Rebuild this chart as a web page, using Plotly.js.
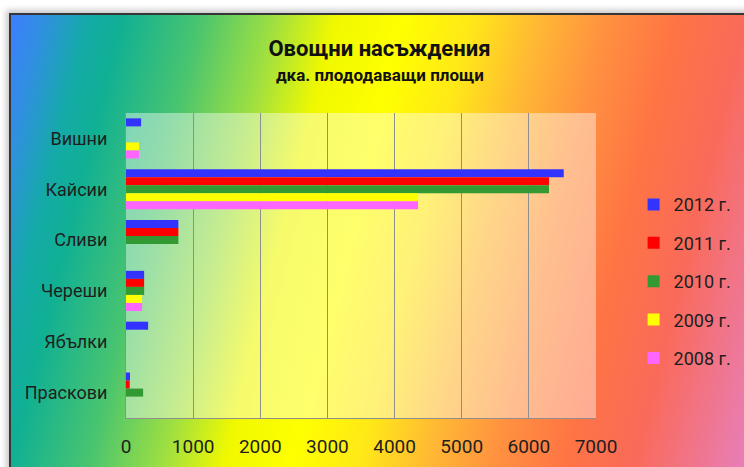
<!DOCTYPE html>
<html>
<head>
<meta charset="utf-8">
<script src="https://cdn.plot.ly/plotly-3.0.1.min.js"></script>
<style>
  html, body { margin:0; padding:0; width:744px; height:467px; overflow:hidden; background:#ffffff; }
  #frame { position:absolute; left:9px; top:13px; width:740px; height:460px;
    border-left:2px solid #363636; border-top:2px solid #363636;
    box-shadow: -3px -3px 6px rgba(0,0,0,0.22);
    background: linear-gradient(104deg, #3d7eff 0%, #3090e0 4%, #14aaa8 9%, #10b094 13%, #48c470 22%, #a0e040 31%, #f0f800 38%, #ffff00 46%, #ffe818 54%, #ffb834 62%, #ff9040 70%, #ff7444 78%, #fa6a5a 86%, #f0758c 93%, #e680c0 100%);
  }
  #chart { position:absolute; left:0; top:0; width:744px; height:467px; }
</style>
</head>
<body>
<div id="frame"></div>
<div id="chart"></div>
<script>
const categories = ["Вишни", "Кайсии", "Сливи", "Череши", "Ябълки", "Праскови"];
const seriesNames = ["2012 г.", "2011 г.", "2010 г.", "2009 г.", "2008 г."];
const v2012 = [225, 6520, 780, 270, 330, 60];
const v2011 = [0, 6300, 780, 270, 0, 55];
const v2010 = [0, 6300, 780, 270, 0, 255];
const v2009 = [195, 4350, 0, 240, 0, 0];
const v2008 = [195, 4350, 0, 240, 0, 0];
const xTicks = [0, 1000, 2000, 3000, 4000, 5000, 6000, 7000];
const titleText = "Овощни насъждения";
const subtitleText = "дка. плододаващи площи";

const seriesValues = [v2012, v2011, v2010, v2009, v2008];
const colors = ["#3333ff", "#ff0000", "#339933", "#ffff00", "#ff66ff"];

const traces = seriesNames.map((name, i) => ({
  type: "bar",
  orientation: "h",
  name: name,
  y: categories,
  x: seriesValues[i],
  marker: { color: colors[i], line: { width: 0 } },
  legendgroup: "g" + i,
  hoverinfo: "x+name"
}));

const font = "Roboto, 'Open Sans', sans-serif";
const layout = {
  width: 744, height: 467,
  margin: { l: 126, r: 148, t: 113, b: 49, autoexpand: false },
  paper_bgcolor: "rgba(0,0,0,0)",
  plot_bgcolor: "rgba(255,255,255,0.42)",
  barmode: "group",
  bargap: 0.21,
  bargroupgap: 0,
  font: { family: font, size: 18, color: "#1e1e1e" },
  title: { text: "<b>" + titleText + "</b>", xref: "container", yref: "container",
           x: 0.51, xanchor: "center", y: 0.897, yanchor: "middle",
           font: { family: font, size: 22, color: "#111" } },
  annotations: [{ text: "<b>" + subtitleText + "</b>", xref: "paper", yref: "paper",
                  x: 0.54, y: 1.125, xanchor: "center", yanchor: "middle", showarrow: false,
                  font: { family: font, size: 17, color: "#111" } }],
  xaxis: {
    range: [0, 7000], tickvals: xTicks, ticktext: xTicks.map(String),
    showgrid: true, gridcolor: "#8f8f8f", gridwidth: 1,
    zeroline: false, showline: true, linecolor: "#8f8f8f", linewidth: 1,
    ticks: "", ticklabelstandoff: 11, fixedrange: true,
    tickfont: { family: font, size: 19, color: "#1e1e1e" }
  },
  yaxis: {
    type: "category", autorange: "reversed",
    showgrid: false, zeroline: false, showline: true, linecolor: "#8f8f8f", linewidth: 1,
    ticks: "", ticklabelstandoff: 14, fixedrange: true,
    tickfont: { family: font, size: 18, color: "#1e1e1e" }
  },
  legend: {
    x: 1.08, xanchor: "left", y: 0.76, yanchor: "top",
    bgcolor: "rgba(0,0,0,0)", borderwidth: 0,
    tracegroupgap: 12, itemwidth: 30,
    font: { family: font, size: 18, color: "#1e1e1e" }
  },
  showlegend: true
};

Plotly.newPlot("chart", traces, layout, { displayModeBar: false, staticPlot: true });
</script>
</body>
</html>
